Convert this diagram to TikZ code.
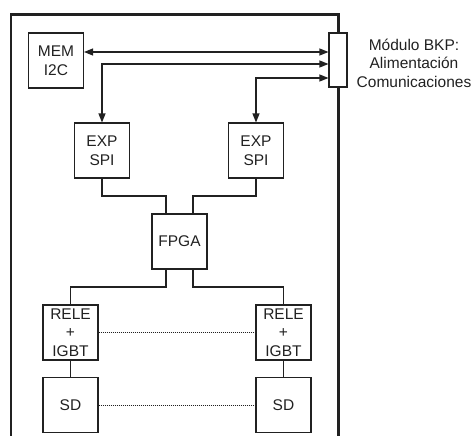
\documentclass[tikz,border=0pt]{standalone}
\usepackage{fontspec}
\setmainfont{Liberation Sans}
\usetikzlibrary{arrows.meta}
\definecolor{ink}{gray}{0.13}
\tikzset{
  blk/.style={draw=ink, line width=1.1pt, fill=white, minimum width=55pt, minimum height=55pt,
    inner sep=0pt, align=center, text=ink, font=\fontsize{15.5}{18.5}\selectfont},
  conn/.style={draw=ink, line width=1.1pt, fill=white, minimum width=18pt, minimum height=54pt, inner sep=0pt},
  wire/.style={draw=ink, line width=1.2pt},
  arr/.style={wire, {Triangle[length=9pt,width=7pt]}-{Triangle[length=9pt,width=7pt]}},
  dots/.style={draw=ink, line width=0.9pt, dash pattern=on 0.9pt off 1.1pt},
  frame/.style={draw=ink, line width=2.4pt},
  lbl/.style={align=center, text=ink, font=\fontsize{15.5}{18.5}\selectfont, inner sep=0pt}
}
\begin{document}
\begin{tikzpicture}[x=1pt,y=-1pt]
\useasboundingbox (0,0) rectangle (474,436);
% frame (open at bottom)
\draw[frame] (11,437) -- (11,14.5) -- (338.5,14.5) -- (338.5,437);
% blocks
\node[blk] (mem)   at (56,60.5)    {MEM\\I2C};
\node[blk] (expl)  at (102,150.5)  {EXP\\SPI};
\node[blk] (expr)  at (256,150.5)  {EXP\\SPI};
\node[blk] (fpga)  at (179.5,241.5){FPGA};
\node[blk] (relel) at (70.5,332.5) {RELE\\+\\IGBT};
\node[blk] (reler) at (283.5,332.5){RELE\\+\\IGBT};
\node[blk] (sdl)   at (70.5,405)   {SD};
\node[blk] (sdr)   at (283.5,405)  {SD};
\node[conn] (bkp)  at (338,60) {};
\node[lbl, anchor=center] (txt) at (414,63) {Módulo BKP:\\Alimentación\\Comunicaciones};
% helper coordinates
\coordinate (y1) at (0,52);
\coordinate (y2) at (0,64);
\coordinate (y3) at (0,78);
\coordinate (yb) at (0,196);
\coordinate (yc) at (0,287);
\coordinate (fl) at (166,0);
\coordinate (fr) at (193,0);
% arrows to BKP
\draw[arr] (mem.east |- y1) -- (bkp.west |- y1);
\draw[arr] (bkp.west |- y2) -| (expl.north);
\draw[arr] (bkp.west |- y3) -| (expr.north);
% EXP to FPGA
\draw[wire] (expl.south) |- (fl |- yb) -- (fl |- fpga.north);
\draw[wire] (expr.south) |- (fr |- yb) -- (fr |- fpga.north);
% FPGA to RELE
\draw[wire] (fl |- fpga.south) |- (yc -| relel.north) -- (relel.north);
\draw[wire] (fr |- fpga.south) |- (yc -| reler.north) -- (reler.north);
% RELE to SD
\draw[wire] (relel.south) -- (sdl.north);
\draw[wire] (reler.south) -- (sdr.north);
% dotted links
\draw[dots] (relel.east) -- (reler.west);
\draw[dots] (sdl.east) -- (sdr.west);
\end{tikzpicture}
\end{document}
